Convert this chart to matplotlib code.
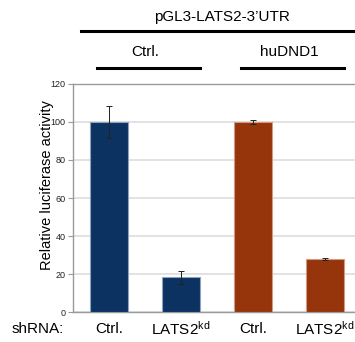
import numpy as np
import matplotlib
matplotlib.use('Agg')
import matplotlib.pyplot as plt
from matplotlib.transforms import blended_transform_factory

plt.rcParams['font.family'] = ['Liberation Sans', 'DejaVu Sans']
plt.rcParams['mathtext.default'] = 'regular'

# data
shrna_labels = ['Ctrl.', 'LATS2$^{kd}$', 'Ctrl.', 'LATS2$^{kd}$']
activity = [100.0, 18.2, 100.0, 27.9]
errors = [8.6, 3.3, 0.9, 0.7]
groups = ['Ctrl.', 'huDND1']
bar_colors = ['#0c3262', '#0c3262', '#96340c', '#96340c']
edge_colors = ['#8ea2c2', '#8ea2c2', '#d49a80', '#d49a80']

fig = plt.figure(figsize=(3.55, 3.42), dpi=100)
ax = fig.add_axes([0.2056, 0.0877, 0.8113, 0.6667])

x = np.arange(len(activity))
ax.bar(x, activity, width=0.54, color=bar_colors, edgecolor=edge_colors,
       linewidth=0.8, zorder=3)
ax.errorbar(x, activity, yerr=errors, fmt='none', ecolor='#222222',
            elinewidth=0.7, capsize=2, capthick=0.7, zorder=4)

ax.set_xlim(-0.5, 3.5)
ax.set_ylim(0, 120)
ax.set_yticks(np.arange(0, 121, 20))
ax.yaxis.grid(True, color='#dddddd', linewidth=1.2, zorder=0)
ax.set_axisbelow(True)
ax.tick_params(axis='y', length=3.5, width=0.8, color='#9a9a9a', pad=2,
               labelsize=6.5, labelcolor='#222222')
ax.tick_params(axis='x', length=0, labelbottom=False)
for s in ['left', 'top', 'bottom']:
    ax.spines[s].set_color('#9a9a9a')
    ax.spines[s].set_linewidth(1.0)
ax.spines['right'].set_visible(False)
ax.set_ylabel('Relative luciferase activity', fontsize=10.5, va='center')
ax.yaxis.set_label_coords(-0.09, 0.557)

# bottom labels
tr = blended_transform_factory(ax.transData, fig.transFigure)
for xi, lab in zip(x, shrna_labels):
    ax.text(xi, 0.038, lab, transform=tr, ha='center', va='center', fontsize=11)
fig.text(0.107, 0.038, 'shRNA:', ha='center', va='center', fontsize=11)

# group headers and bars
fig.text(0.625, 0.950, "pGL3-LATS2-3\u2019UTR", ha='center', va='center', fontsize=11)
fig.add_artist(plt.Line2D([0.228, 1.0], [0.909, 0.909], transform=fig.transFigure,
                          color='black', linewidth=2.2))
for gi, g in enumerate(groups):
    c = 2 * gi + 0.5
    ax.text(c, 0.848, g, transform=tr, ha='center', va='center', fontsize=11)
    ax.add_artist(plt.Line2D([c - 0.67, c + 0.77], [0.801, 0.801], transform=tr,
                             color='black', linewidth=2.2, clip_on=False))

fig.savefig('out.png', dpi=100)
